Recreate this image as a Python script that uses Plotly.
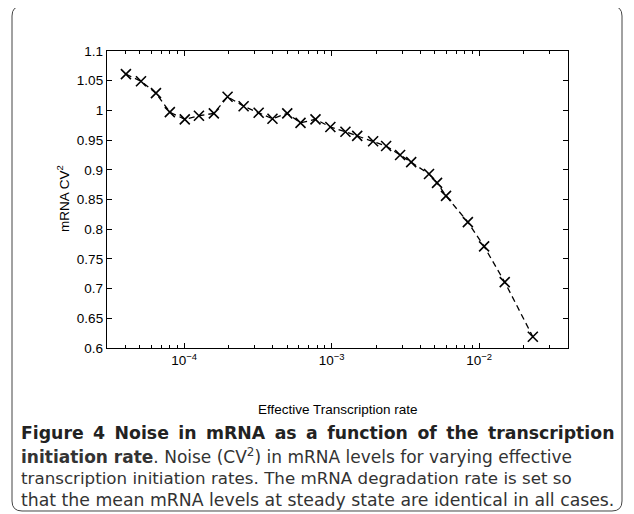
import plotly.graph_objects as go

# ---- data ----
rate = [4.03e-5, 5.1e-5, 6.44e-5, 8.0e-5, 1.01e-4, 1.26e-4, 1.59e-4, 1.97e-4,
        2.53e-4, 3.2e-4, 3.97e-4, 5.0e-4, 6.15e-4, 7.77e-4, 9.8e-4, 1.24e-3,
        1.49e-3, 1.91e-3, 2.34e-3, 2.91e-3, 3.46e-3, 4.57e-3, 5.18e-3, 5.96e-3,
        8.38e-3, 1.08e-2, 1.49e-2, 2.31e-2]
cv2 = [1.061, 1.049, 1.029, 0.997, 0.985, 0.991, 0.995, 1.023,
       1.007, 0.996, 0.986, 0.995, 0.979, 0.985, 0.972, 0.964,
       0.957, 0.948, 0.940, 0.925, 0.913, 0.893, 0.878, 0.856,
       0.812, 0.771, 0.711, 0.619]

y_ticks = [0.6, 0.65, 0.7, 0.75, 0.8, 0.85, 0.9, 0.95, 1.0, 1.05, 1.1]
y_tick_labels = ["0.6", "0.65", "0.7", "0.75", "0.8", "0.85", "0.9", "0.95", "1", "1.05", "1.1"]
x_major = [1e-4, 1e-3, 1e-2]
x_major_labels = ["10<sup>−4</sup>", "10<sup>−3</sup>", "10<sup>−2</sup>"]
x_minor = [m * d for d in (1e-5, 1e-4, 1e-3, 1e-2) for m in range(2, 10)
           if 3e-5 <= m * d <= 4e-2]

x_title = "Effective Transcription rate"
y_title = "mRNA CV<sup>2</sup>"
caption = [
    "<b>" + " \u2009".join("Figure 4 Noise in mRNA as a function of the transcription".split(" ")) + "</b>",
    "<b>initiation rate</b>. Noise (CV<sup>2</sup>) in mRNA levels for varying effective",
    "transcription initiation rates. The mRNA degradation rate is set so",
    "that the mean mRNA levels at steady state are identical in all cases.",
]

# page body has an 8px margin: the figure is drawn from (8, 8)
OFF = 8
W, H = 634 - OFF, 514 - OFF
L, R, T, B = 107, 568, 51, 348   # plot area in reference pixels


def px(x):
    return (x - L) / (R - L)


def py(y):
    return 1 - (y - T) / (B - T)


fig = go.Figure()
fig.add_trace(go.Scatter(
    x=rate, y=cv2, mode="lines+markers",
    line=dict(color="black", width=1.3, dash="6px,4px"),
    marker=dict(symbol="x-thin", size=10, line=dict(color="black", width=1.6), color="black"),
    showlegend=False,
))

font_axis = dict(family="Liberation Sans, Arial, sans-serif", size=13.5, color="black")

fig.update_xaxes(
    type="log", range=[-4.5229, -1.3979],
    tickmode="array", tickvals=x_major, ticktext=x_major_labels,
    ticks="inside", ticklen=5, tickwidth=1, tickcolor="black",
    minor=dict(tickmode="array", tickvals=x_minor, ticks="inside", ticklen=3,
               tickwidth=1, tickcolor="black", showgrid=False),
    showline=True, linecolor="black", linewidth=1.3, mirror="allticks",
    showgrid=False, zeroline=False, tickfont=font_axis,
)
fig.update_yaxes(
    range=[0.6, 1.1],
    tickmode="array", tickvals=y_ticks, ticktext=y_tick_labels,
    ticks="inside", ticklen=5, tickwidth=1, tickcolor="black",
    showline=True, linecolor="black", linewidth=1.3, mirror="allticks",
    showgrid=False, zeroline=False, tickfont=font_axis,
)

annotations = [
    dict(x=px(338), y=py(409), xref="paper", yref="paper", text=x_title,
         showarrow=False, font=font_axis, xanchor="center", yanchor="middle"),
    dict(x=px(63), y=py(199), xref="paper", yref="paper", text=y_title,
         showarrow=False, font=font_axis, textangle=-90, xanchor="center", yanchor="middle"),
]
cap_y = [433, 456, 478, 500]
cap_size = [17.3, 17.0, 16.7, 17.3]
for i, (t, yy) in enumerate(zip(caption, cap_y)):
    annotations.append(dict(
        x=px(19), y=py(yy), xref="paper", yref="paper", text=t, showarrow=False,
        xanchor="left", yanchor="middle", align="left",
        font=dict(family="DejaVu Sans, sans-serif", size=cap_size[i],
                  color="#222" if i == 0 else "#333"),
    ))

# rounded frame around the figure
x0, y0, x1, y1, r = 12, 6, 622, 511, 10


def P(x, y):
    return f"{px(x):.5f},{py(y):.5f}"


path = (f"M {P(x0 + r, y0)} L {P(x1 - r, y0)} Q {P(x1, y0)} {P(x1, y0 + r)} "
        f"L {P(x1, y1 - r)} Q {P(x1, y1)} {P(x1 - r, y1)} "
        f"L {P(x0 + r, y1)} Q {P(x0, y1)} {P(x0, y1 - r)} "
        f"L {P(x0, y0 + r)} Q {P(x0, y0)} {P(x0 + r, y0)} Z")

fig.update_layout(
    width=W, height=H,
    margin=dict(l=L - OFF, r=634 - R, t=T - OFF, b=514 - B),
    paper_bgcolor="white", plot_bgcolor="white",
    annotations=annotations,
    shapes=[dict(type="path", path=path, xref="paper", yref="paper",
                 line=dict(color="#444", width=1))],
)

fig.write_html("out.html")
